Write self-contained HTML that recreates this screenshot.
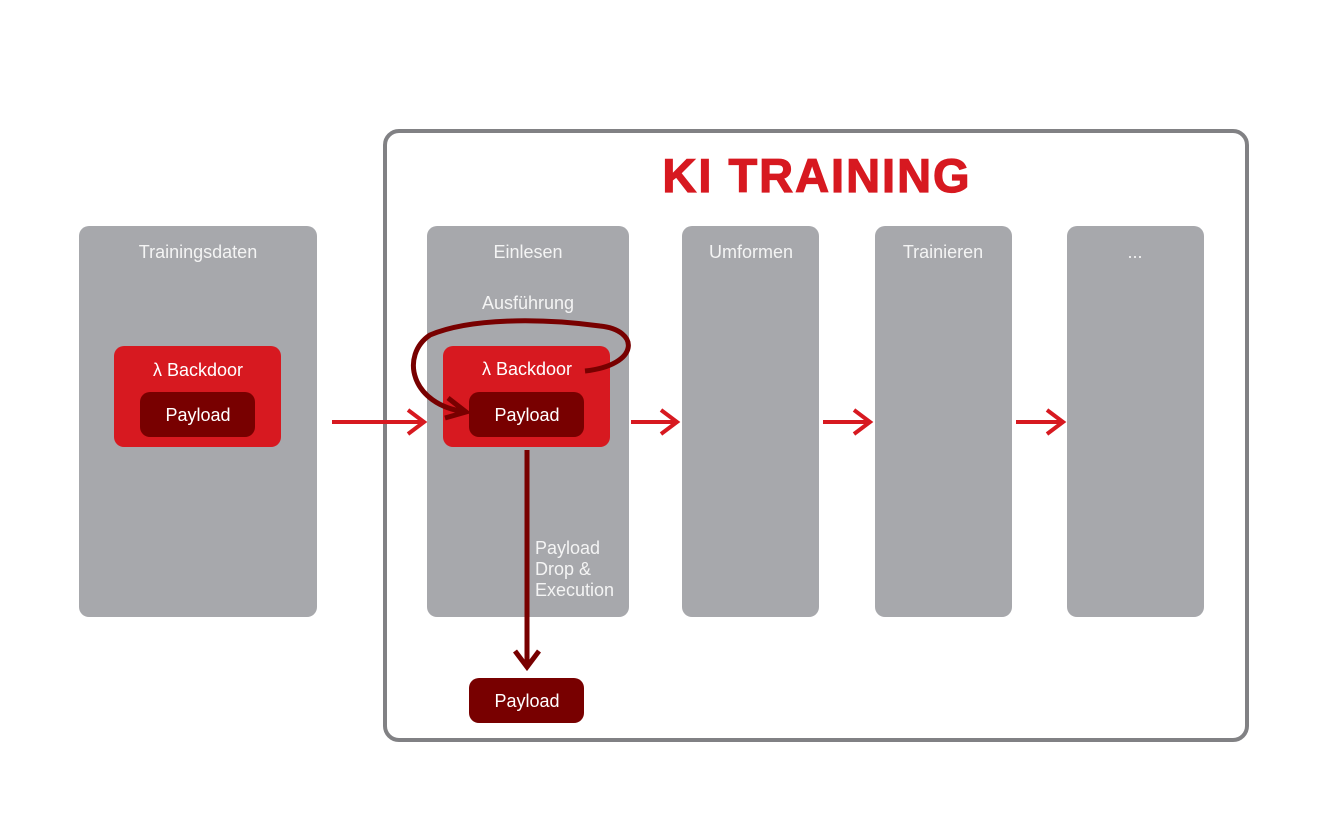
<!DOCTYPE html>
<html><head><meta charset="utf-8"><style>body{margin:0;background:#fff}svg{display:block}text{font-family:"Liberation Sans",sans-serif}</style></head><body>
<svg width="1332" height="840" viewBox="0 0 1332 840">
<rect x="385" y="131" width="862" height="609" rx="14" fill="#fff" stroke="#818184" stroke-width="4"/>
<text x="817" y="192" text-anchor="middle" font-size="47" font-weight="bold" letter-spacing="2" fill="#d71920" stroke="#d71920" stroke-width="1.2">KI TRAINING</text>
<g fill="#a7a8ac">
<rect x="79" y="226" width="238" height="391" rx="10"/>
<rect x="427" y="226" width="202" height="391" rx="10"/>
<rect x="682" y="226" width="137" height="391" rx="10"/>
<rect x="875" y="226" width="137" height="391" rx="10"/>
<rect x="1067" y="226" width="137" height="391" rx="10"/>
</g>
<g fill="#f4f4f4" font-size="18" text-anchor="middle">
<text x="198" y="258">Trainingsdaten</text>
<text x="528" y="258">Einlesen</text>
<text x="751" y="258">Umformen</text>
<text x="943" y="258">Trainieren</text>
<text x="1135" y="258">...</text>
<text x="528" y="309">Ausführung</text>
</g>
<rect x="114" y="346" width="167" height="101" rx="10" fill="#d71920"/>
<rect x="140" y="392" width="115" height="45" rx="10" fill="#780000"/>
<rect x="443" y="346" width="167" height="101" rx="10" fill="#d71920"/>
<rect x="469" y="392" width="115" height="45" rx="10" fill="#780000"/>
<rect x="469" y="678" width="115" height="45" rx="10" fill="#780000"/>
<g fill="#fff" font-size="18" text-anchor="middle">
<text x="198" y="376">λ Backdoor</text>
<text x="198" y="421">Payload</text>
<text x="527" y="375">λ Backdoor</text>
<text x="527" y="421">Payload</text>
<text x="527" y="707">Payload</text>
</g>
<g fill="#f4f4f4" font-size="18">
<text x="535" y="554">Payload</text>
<text x="535" y="575">Drop &amp;</text>
<text x="535" y="596">Execution</text>
</g>
<g stroke="#d71920" stroke-width="4" fill="none">
<path d="M332 422H424M408 410L424 422L408 434"/>
<path d="M631 422H677M661 410L677 422L661 434"/>
<path d="M823 422H870M854 410L870 422L854 434"/>
<path d="M1016 422H1063M1047 410L1063 422L1047 434"/>
</g>
<g stroke="#780000" stroke-width="5" fill="none">
<path d="M527 450V667M515 651L527 667L539 651"/>
<path d="M585 371C640 365 640 330 600 326C540 318 470 318 430 335C400 355 410 405 466 412M448 398L466 412L445 418"/>
</g>
</svg>
</body></html>
